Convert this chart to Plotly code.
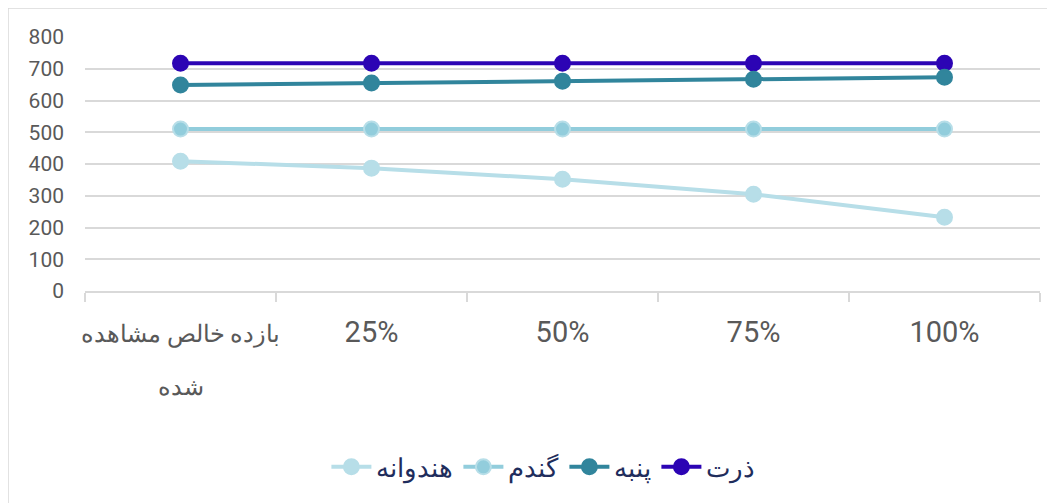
import plotly.graph_objects as go

categories = ["بازده خالص مشاهده<br>شده", "25%", "50%", "75%", "100%"]

series_names = ["ذرت", "پنبه", "گندم", "هندوانه"]
zorrat = [717, 717, 717, 717, 717]
panbe = [649, 655, 661, 667, 673]
gandom = [510, 510, 510, 510, 510]
hendevane = [409, 387, 352, 305, 232]

y_ticks = [0, 100, 200, 300, 400, 500, 600, 700, 800]

colors = {
    "ذرت": "#2C04B4",
    "پنبه": "#31859C",
    "گندم": "#92CDDC",
    "هندوانه": "#B7DEE8",
}
marker_lines = {
    "ذرت": "#2C04B4",
    "پنبه": "#31859C",
    "گندم": "#B7DEE8",
    "هندوانه": "#B7DEE8",
}
values = {"ذرت": zorrat, "پنبه": panbe, "گندم": gandom, "هندوانه": hendevane}


def tick_label(c):
    if "<br>" in c:
        parts = c.split("<br>")
        return "<br>".join('<span style="font-size:24px">%s</span>' % p for p in parts)
    return '<span style="font-size:29px">%s</span>' % c


fig = go.Figure()
for name in series_names:
    fig.add_trace(go.Scatter(
        x=categories, y=values[name], name=name, mode="lines+markers",
        line=dict(color=colors[name], width=4),
        marker=dict(size=15, color=colors[name],
                    line=dict(color=marker_lines[name], width=2)),
    ))

# page body has an 8px margin, so the figure is 8px smaller and offsets shifted
fig.update_layout(
    width=1047, height=495,
    margin=dict(l=77, r=15, t=29, b=212),
    paper_bgcolor="white", plot_bgcolor="white",
    font=dict(family="Roboto, 'Noto Sans', sans-serif", color="#595959"),
    showlegend=True,
    legend=dict(orientation="h", x=0.48, xanchor="center", y=-0.6, yanchor="top",
                traceorder="reversed",
                font=dict(size=26, color="#1F2D5C"), itemwidth=40),
    shapes=[dict(type="rect", xref="paper", yref="paper",
                 x0=(0 - 77) / 955, x1=(1070 - 77) / 955,
                 y0=-(520 - 283) / 254, y1=1 + (29 - 0) / 254,
                 line=dict(color="#D9D9D9", width=1.5), layer="below")],
)
fig.update_xaxes(
    type="category", range=[-0.5, 4.5], showgrid=False, automargin=False,
    tickmode="array", tickvals=categories, ticktext=[tick_label(c) for c in categories],
    showline=True, linecolor="#D9D9D9", linewidth=1.5,
    ticks="outside", tickson="boundaries", ticklen=9, tickcolor="#D9D9D9", tickwidth=1.5,
    tickfont=dict(size=41, color="#595959"), tickangle=0,
    ticklabelstandoff=0,
)
fig.update_yaxes(
    range=[0, 800], tickvals=y_ticks, automargin=False,
    showgrid=True, gridcolor="#D9D9D9", gridwidth=1.5,
    zeroline=False, showline=False,
    tickfont=dict(size=21, color="#595959"),
    ticklabelstandoff=20,
)

fig.write_html("out.html")
